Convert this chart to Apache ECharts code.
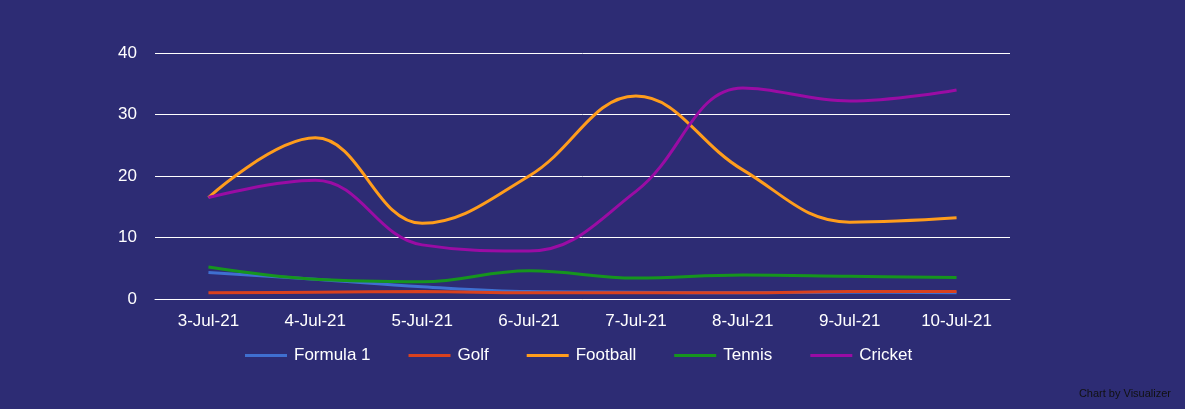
<!DOCTYPE html>
<html><head><meta charset="utf-8">
<script src="https://cdn.jsdelivr.net/npm/echarts@6/dist/echarts.min.js"></script>
<style>html,body{margin:0;padding:0;background:#2d2c74}#c{width:1185px;height:409px}</style>
</head><body><div id="c"></div>
<script>
const categories=['3-Jul-21','4-Jul-21','5-Jul-21','6-Jul-21','7-Jul-21','8-Jul-21','9-Jul-21','10-Jul-21'];
const formula1=[4.3,3.2,2.0,1.2,1.1,1.0,1.1,1.0];
const golf=[1.0,1.1,1.2,1.0,1.0,1.0,1.2,1.2];
const football=[16.5,26.2,12.3,20,33,21,12.5,13.2];
const tennis=[5.2,3.2,2.8,4.6,3.4,3.9,3.7,3.5];
const cricket=[16.5,19.3,8.8,7.8,17.5,34.3,32.2,34];
const names=['Formula 1','Golf','Football','Tennis','Cricket'];
const colors=['#3f6fd0','#d9411e','#ff9d1c','#16951e','#9a0ca4'];
const data=[formula1,golf,football,tennis,cricket];
const chart=echarts.init(document.getElementById('c'));
chart.setOption({
 backgroundColor:'#2d2c74',
 color:colors,
 textStyle:{fontFamily:'Arial, Liberation Sans'},
 grid:{left:155,right:175,top:53,bottom:110},
 legend:{bottom:40,left:240,itemWidth:42,itemHeight:3,itemGap:38,icon:'rect',textStyle:{color:'#fff',fontSize:17,padding:[0,0,0,2]},data:names},
 xAxis:{type:'category',data:categories,axisLine:{lineStyle:{color:'#fff'}},axisTick:{show:false},axisLabel:{color:'#fff',fontSize:17,margin:14}},
 yAxis:{type:'value',min:0,max:40,interval:10,axisLine:{show:false},axisTick:{show:false},axisLabel:{color:'#fff',fontSize:17,margin:18},splitLine:{lineStyle:{color:'#fff',width:1}}},
 series:names.map((n,i)=>({name:n,type:'line',smooth:0.4,symbol:'none',data:data[i],lineStyle:{width:3}})),
 graphic:[{type:'text',right:14,bottom:10,style:{text:'Chart by Visualizer',fill:'#111',fontSize:11}}]
});
</script></body></html>
